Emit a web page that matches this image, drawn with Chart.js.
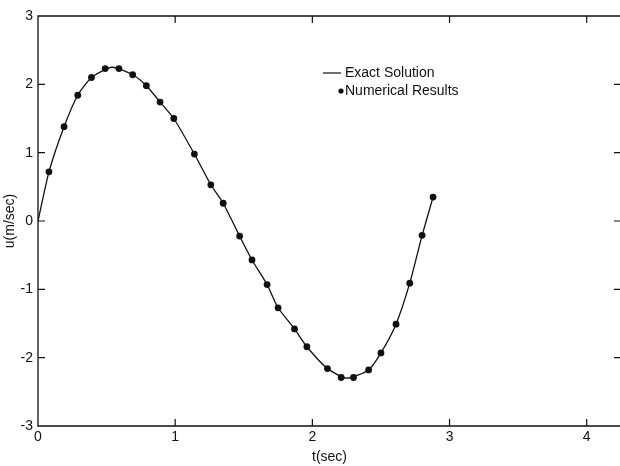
<!DOCTYPE html>
<html>
<head>
<meta charset="utf-8">
<script src="https://cdn.jsdelivr.net/npm/chart.js@4.4.1/dist/chart.umd.min.js"></script>
<style>
  html, body { margin: 0; padding: 0; background: #fff; overflow: hidden; }
  /* a few px wider than the window so the right frame edge is cut off like the scan */
  #wrap { width: 625px; height: 466px; }
</style>
</head>
<body>
<div id="wrap"><canvas id="chart"></canvas></div>
<script>
// Numerical results (dots)
const timeSec = [0.08, 0.19, 0.29, 0.39, 0.49, 0.59, 0.69, 0.79, 0.89, 0.99,
                 1.14, 1.26, 1.35, 1.47, 1.56, 1.67, 1.75, 1.87, 1.96,
                 2.11, 2.21, 2.30, 2.41, 2.50, 2.61, 2.71, 2.80, 2.88];
const velNumerical = [0.72, 1.38, 1.84, 2.10, 2.23, 2.23, 2.14, 1.98, 1.74, 1.50,
                      0.98, 0.53, 0.26, -0.22, -0.57, -0.93, -1.27, -1.58, -1.84,
                      -2.16, -2.29, -2.29, -2.18, -1.93, -1.51, -0.91, -0.21, 0.35];

// Exact solution curve
const exactTime = [0, 0.08, 0.19, 0.29, 0.39, 0.54, 0.69, 0.79, 0.89, 0.99,
                   1.14, 1.26, 1.35, 1.47, 1.56, 1.67, 1.75, 1.87, 1.96,
                   2.11, 2.25, 2.41, 2.50, 2.61, 2.71, 2.80, 2.88];
const exactVel = [0, 0.72, 1.38, 1.84, 2.10, 2.25, 2.14, 1.98, 1.74, 1.50,
                  0.98, 0.53, 0.26, -0.22, -0.57, -0.93, -1.27, -1.58, -1.84,
                  -2.16, -2.30, -2.18, -1.93, -1.51, -0.91, -0.21, 0.35];

const xTicks = [0, 1, 2, 3, 4];
const yTicks = [-3, -2, -1, 0, 1, 2, 3];

const FONT = 'Liberation Sans, Arial, sans-serif';
const INK = '#111';

// Frame, inward ticks and the in-plot legend
const framePlugin = {
    id: 'frame',
    afterDraw(chart) {
        const ctx = chart.ctx;
        const a = chart.chartArea;
        const xs = chart.scales.x;
        const ys = chart.scales.y;
        ctx.save();
        ctx.strokeStyle = INK;
        ctx.lineWidth = 1.3;
        ctx.beginPath();
        ctx.moveTo(a.right, a.top);
        ctx.lineTo(a.left, a.top);
        ctx.lineTo(a.left, a.bottom);
        ctx.lineTo(a.right, a.bottom);
        ctx.stroke();

        // inward tick marks on all sides
        const len = 7;
        ctx.lineWidth = 1.2;
        ctx.beginPath();
        xTicks.forEach(v => {
            if (v === 0) return;
            const px = xs.getPixelForValue(v);
            ctx.moveTo(px, a.bottom);
            ctx.lineTo(px, a.bottom - len);
            ctx.moveTo(px, a.top);
            ctx.lineTo(px, a.top + len);
        });
        yTicks.forEach(v => {
            if (v === -3 || v === 3) return;
            const py = ys.getPixelForValue(v);
            ctx.moveTo(a.left, py);
            ctx.lineTo(a.left + len, py);
            ctx.moveTo(a.right, py);
            ctx.lineTo(a.right - len, py);
        });
        ctx.stroke();

        // legend
        const lx = a.left + 285;
        const ly = a.top + 57;
        ctx.lineWidth = 1.2;
        ctx.beginPath();
        ctx.moveTo(lx, ly);
        ctx.lineTo(lx + 18, ly);
        ctx.stroke();
        ctx.fillStyle = INK;
        ctx.beginPath();
        ctx.arc(lx + 18, ly + 18, 2.6, 0, Math.PI * 2);
        ctx.fill();
        ctx.font = '14px ' + FONT;
        ctx.textBaseline = 'middle';
        ctx.textAlign = 'left';
        ctx.fillText('Exact Solution', lx + 22, ly);
        ctx.fillText('Numerical Results', lx + 22, ly + 18);
        ctx.restore();
    }
};

const ctx = document.getElementById('chart').getContext('2d');
new Chart(ctx, {
    type: 'scatter',
    data: {
        datasets: [
            {
                label: 'Exact Solution',
                data: exactTime.map((t, i) => ({ x: t, y: exactVel[i] })),
                showLine: true,
                borderColor: INK,
                borderWidth: 1.3,
                pointRadius: 0,
                tension: 0.2,
                fill: false
            },
            {
                label: 'Numerical Results',
                data: timeSec.map((t, i) => ({ x: t, y: velNumerical[i] })),
                showLine: false,
                backgroundColor: INK,
                borderColor: INK,
                pointRadius: 3.4,
                pointBorderWidth: 0
            }
        ]
    },
    options: {
        responsive: true,
        maintainAspectRatio: false,
        animation: false,
        devicePixelRatio: 1,
        layout: { padding: { top: 16, right: 0, left: 0, bottom: 0 } },
        plugins: {
            legend: { display: false },
            tooltip: { enabled: false }
        },
        scales: {
            x: {
                type: 'linear',
                min: 0,
                max: 4.25,
                afterBuildTicks: s => { s.ticks = xTicks.map(v => ({ value: v })); },
                afterFit: s => { s.height = 40; },
                grid: { display: false, drawTicks: false },
                border: { display: false },
                ticks: {
                    color: INK,
                    font: { family: FONT, size: 14 },
                    padding: 3,
                    maxRotation: 0
                },
                title: {
                    display: true,
                    text: 't(sec)',
                    color: INK,
                    font: { family: FONT, size: 14 },
                    padding: { top: 0, bottom: 0 }
                }
            },
            y: {
                min: -3,
                max: 3,
                afterBuildTicks: s => { s.ticks = yTicks.map(v => ({ value: v })); },
                afterFit: s => { s.width = 38; },
                grid: { display: false, drawTicks: false },
                border: { display: false },
                ticks: {
                    color: INK,
                    font: { family: FONT, size: 14 },
                    padding: 5
                },
                title: {
                    display: true,
                    text: 'u(m/sec)',
                    color: INK,
                    font: { family: FONT, size: 14 },
                    padding: { top: 2, bottom: 0 }
                }
            }
        }
    },
    plugins: [framePlugin]
});
</script>
</body>
</html>
